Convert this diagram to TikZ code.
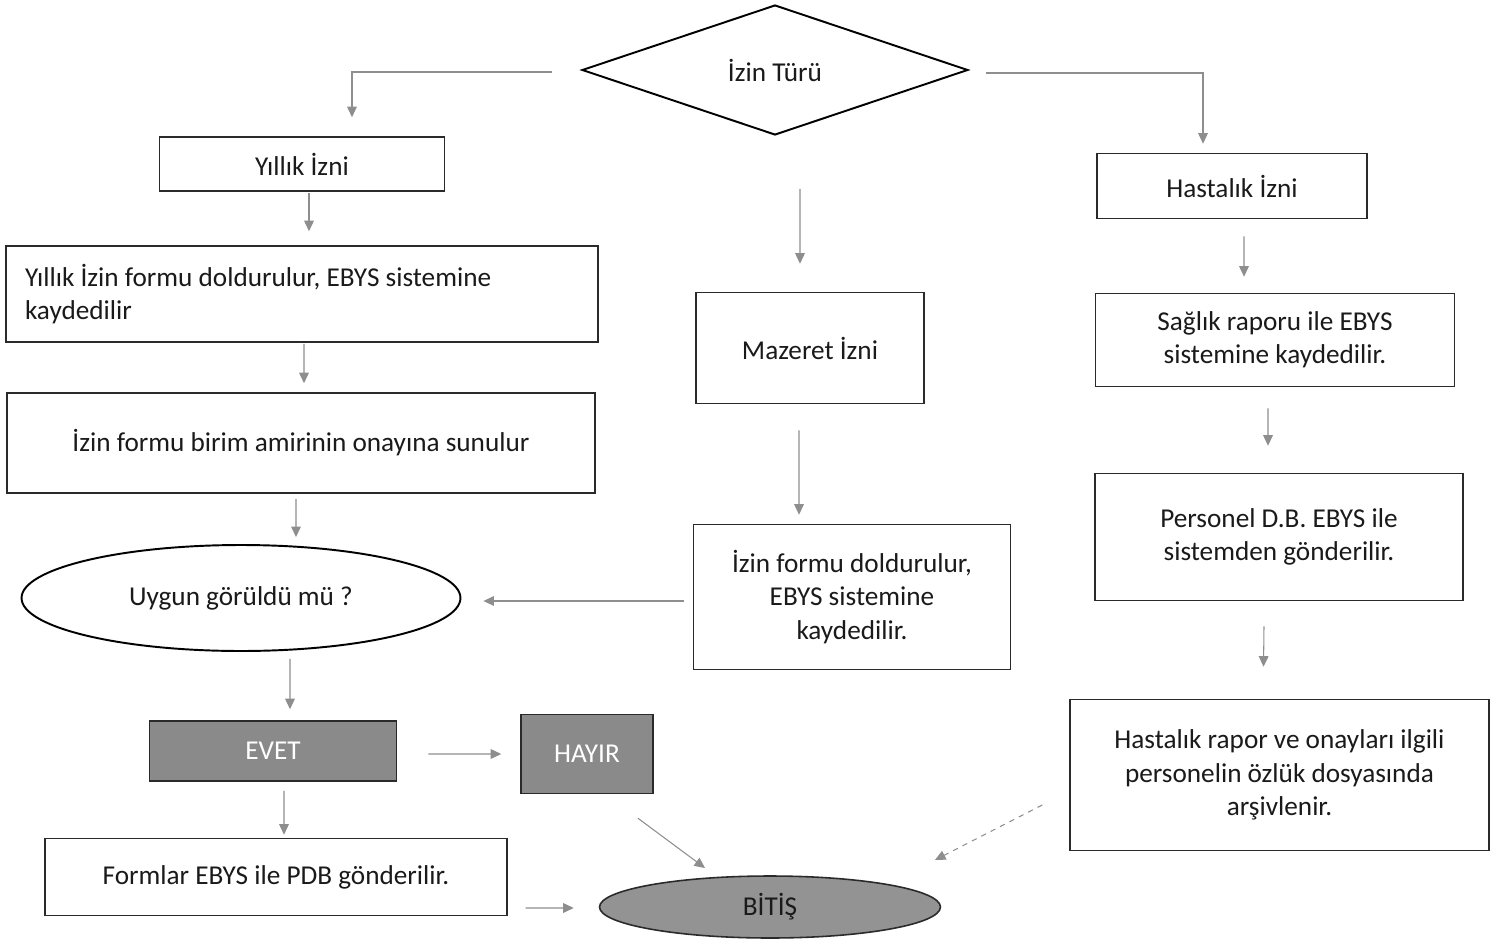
\documentclass[tikz,border=0pt]{standalone}
\usepackage{fontspec}
\setmainfont{Carlito}
\usetikzlibrary{shapes.geometric,arrows.meta}
\definecolor{txt}{HTML}{1A1A1A}
\definecolor{ln}{HTML}{2A2A2A}
\definecolor{conn}{HTML}{8E8E8E}
\definecolor{boxfill}{HTML}{8A8A8A}
\definecolor{endfill}{HTML}{939393}
\tikzset{
  every node/.style={font=\fontsize{15.5}{19}\selectfont, text=txt},
  stepbox/.style={draw=ln, line width=0.9pt, rectangle, align=center, inner sep=2pt},
  darkbox/.style={draw=ln, line width=0.9pt, rectangle, fill=boxfill, text=white, align=center, inner sep=2pt},
  dia/.style={draw=black, line width=1.1pt, diamond, inner sep=0pt, minimum width=7.72cm, minimum height=2.6cm},
  ell/.style={draw=black, line width=1.1pt, ellipse, inner sep=0pt},
  arr/.style={draw=conn, line width=0.6pt, -{Triangle[length=6pt,width=5.5pt]}},
}
\begin{document}
\begin{tikzpicture}[x=0.02cm, y=-0.02cm]
\useasboundingbox (0,0) rectangle (1491,943);
\fill[white] (0,0) rectangle (1491,943);

% nodes
\node[dia] (tur) at (775,70) {İzin Türü};

\node[stepbox, minimum width=5.7cm, minimum height=1.08cm] (yillik) at (302,164) {Yıllık İzni};
\node[stepbox, align=flush left, text width=11.08cm, inner xsep=0.38cm, minimum height=1.92cm] (yform) at (302,294)
  {Yıllık İzin formu doldurulur, EBYS sistemine\\kaydedilir};
\node[stepbox, minimum width=11.76cm, minimum height=2.0cm] (onay) at (301,443) {İzin formu birim amirinin onayına sunulur};
\node[ell, minimum width=8.78cm, minimum height=2.12cm] (uygun) at (241,598) {Uygun görüldü mü ?};
\node[darkbox, minimum width=4.94cm, minimum height=1.2cm] (evet) at (273,751) {EVET};
\node[darkbox, minimum width=2.64cm, minimum height=1.58cm] (hayir) at (587,754) {HAYIR};
\node[stepbox, minimum width=9.24cm, minimum height=1.54cm] (formlar) at (276,877) {Formlar EBYS ile PDB gönderilir.};
\node[ell, draw=ln, fill=endfill, line width=0.9pt, minimum width=6.82cm, minimum height=1.24cm] (bitis) at (770,907) {BİTİŞ};

\node[stepbox, minimum width=4.56cm, minimum height=2.22cm] (mazeret) at (810,348) {Mazeret İzni};
\node[stepbox, minimum width=6.34cm, minimum height=2.9cm] (iform) at (852,597) {İzin formu doldurulur,\\EBYS sistemine\\kaydedilir.};

\node[stepbox, minimum width=5.4cm, minimum height=1.3cm] (hastalik) at (1232,186) {Hastalık İzni};
\node[stepbox, minimum width=7.18cm, minimum height=1.86cm] (saglik) at (1275,340) {Sağlık raporu ile EBYS\\sistemine kaydedilir.};
\node[stepbox, minimum width=7.36cm, minimum height=2.54cm] (personel) at (1279,537) {Personel D.B. EBYS ile\\sistemden gönderilir.};
\node[stepbox, minimum width=8.38cm, minimum height=3.02cm] (arsiv) at (1279.5,775) {Hastalık rapor ve onayları ilgili\\personelin özlük dosyasında\\arşivlenir.};

% connectors
\draw[arr] ([xshift=-0.58cm,yshift=-0.04cm]tur.west) -| ([xshift=1.0cm,yshift=0.38cm]yillik.north);
\draw[arr] ([xshift=0.34cm,yshift=-0.06cm]tur.east) -| ([xshift=-0.58cm,yshift=0.18cm]hastalik.north);
\draw[arr] ([xshift=0.5cm,yshift=-1.06cm]tur.south) -- ([xshift=-0.2cm,yshift=0.56cm]mazeret.north);

\draw[arr] ([xshift=0.14cm,yshift=-0.02cm]yillik.south) -- ([xshift=0.14cm,yshift=0.28cm]yform.north);
\draw[arr] ([xshift=0.04cm,yshift=-0.02cm]yform.south) -- ([xshift=0.06cm,yshift=0.18cm]onay.north);
\draw[arr] ([xshift=-0.1cm,yshift=-0.1cm]onay.south) -- ([xshift=1.1cm,yshift=0.14cm]uygun.north);
\draw[arr] ([xshift=0.98cm,yshift=-0.14cm]uygun.south) -- ([xshift=0.34cm,yshift=0.22cm]evet.north);
\draw[arr] ([xshift=0.62cm,yshift=-0.06cm]evet.east) -- ([xshift=-0.38cm]hayir.west);
\draw[arr] ([xshift=0.22cm,yshift=-0.18cm]evet.south) -- ([xshift=0.16cm,yshift=0.06cm]formlar.north);
\draw[arr] ([xshift=0.36cm,yshift=-0.62cm]formlar.east) -- ([xshift=-0.5cm,yshift=-0.02cm]bitis.west);
\draw[arr] ([xshift=1.02cm,yshift=-0.48cm]hayir.south) -- ([xshift=-1.3cm,yshift=0.78cm]bitis.center);

\draw[arr] ([xshift=-0.22cm,yshift=-0.52cm]mazeret.south) -- ([xshift=-1.06cm,yshift=0.18cm]iform.north);
\draw[arr] ([xshift=-0.18cm,yshift=-0.08cm]iform.west) -- ([xshift=0.44cm,yshift=-0.06cm]uygun.east);

\draw[arr] ([xshift=0.24cm,yshift=-0.34cm]hastalik.south) -- ([xshift=-0.62cm,yshift=0.32cm]saglik.north);
\draw[arr] ([xshift=-0.14cm,yshift=-0.42cm]saglik.south) -- ([xshift=-0.22cm,yshift=0.54cm]personel.north);
\draw[arr] ([xshift=-0.3cm,yshift=-0.5cm]personel.south) -- ([xshift=-0.32cm,yshift=0.64cm]arsiv.north);
\draw[arr, dashed] ([xshift=-0.54cm,yshift=-0.6cm]arsiv.west) -- ([xshift=3.3cm,yshift=0.94cm]bitis.center);
\end{tikzpicture}
\end{document}
